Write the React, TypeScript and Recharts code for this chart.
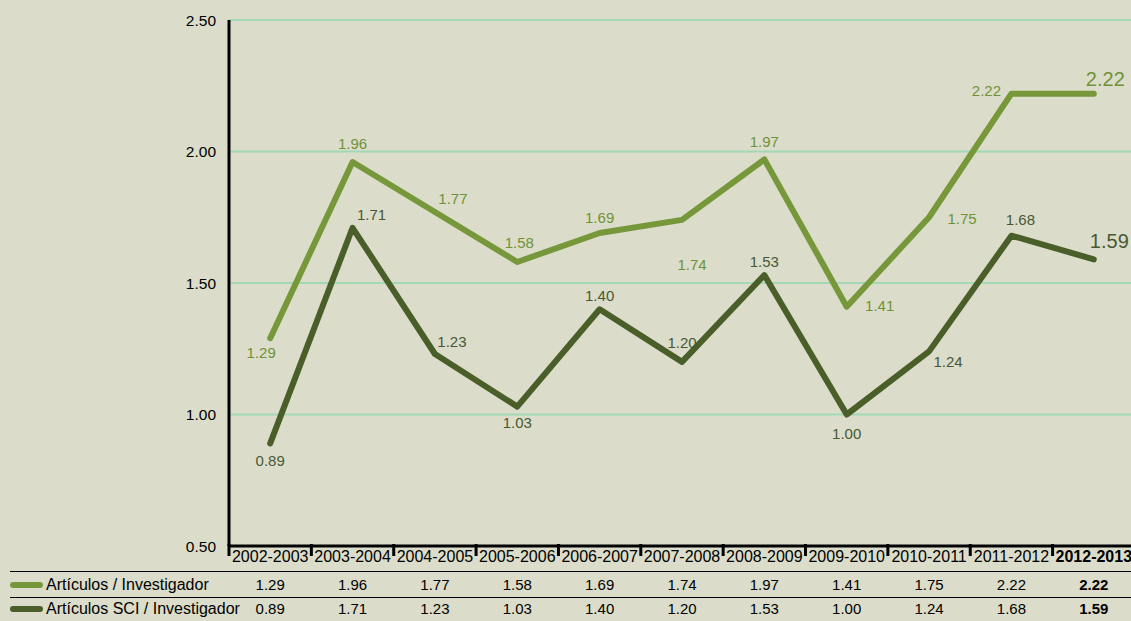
import React from 'react';
import { LineChart, Line, XAxis, YAxis, CartesianGrid, LabelList } from 'recharts';

const categories = ['2002-2003', '2003-2004', '2004-2005', '2005-2006', '2006-2007', '2007-2008', '2008-2009', '2009-2010', '2010-2011', '2011-2012', '2012-2013'];
const articulos = [1.29, 1.96, 1.77, 1.58, 1.69, 1.74, 1.97, 1.41, 1.75, 2.22, 2.22];
const articulosSCI = [0.89, 1.71, 1.23, 1.03, 1.40, 1.20, 1.53, 1.00, 1.24, 1.68, 1.59];
const yTicks = [0.5, 1.0, 1.5, 2.0, 2.5];
const seriesNames = ['Artículos / Investigador', 'Artículos SCI / Investigador'];

const data = categories.map((c, i) => ({ cat: c, a: articulos[i], b: articulosSCI[i] }));

// label nudges (styling) relative to each computed point
const nudgeA: [number, number][] = [[-9, 14], [0, -19], [18, -13], [2, -19], [0, -16], [10, 45], [0, -18], [33, -1], [33, 1], [-25, -3], [31, -15]];
const nudgeB: [number, number][] = [[0, 17], [19, -13], [17, -13], [0, 16], [0, -14], [0, -19], [0, -14], [0, 19], [19, 10], [9, -16], [35, -18]];

const BG = '#dbddca';
const LIGHT = '#76983a';
const DARK = '#4a5e29';
const LIGHT_TXT = '#6f9238';
const DARK_TXT = '#485834';
const GRID = '#a2d8b4';
const FONT = '"Liberation Sans", Arial, sans-serif';
const HALF = 41.2;
const last = categories.length - 1;

const makeLabel = (nudge: [number, number][], color: string) => (props: any) => {
  const { x, y, value, index } = props;
  const [dx, dy] = nudge[index];
  const big = index === last;
  return (
    <text x={x + dx} y={y + dy} textAnchor={big ? 'end' : 'middle'} dominantBaseline="central" fill={color}
      fontSize={big ? 20 : 15} fontFamily={FONT}>
      {Number(value).toFixed(2)}
    </text>
  );
};

const CatTick = (props: any) => {
  const { x, y, payload, index } = props;
  const bold = index === last;
  const common = { textAnchor: 'middle' as const, dominantBaseline: 'central' as const, fill: '#000', fontFamily: FONT, fontWeight: bold ? 700 : 400 };
  return (
    <g>
      <line x1={x - HALF} x2={x - HALF} y1={y - 2} y2={y + 10} stroke="#000" strokeWidth={3} />
      <text x={x} y={y + 10} fontSize={16} {...common}>{payload.value}</text>
      <text x={x} y={y + 38} fontSize={15} {...common}>{articulos[index].toFixed(2)}</text>
      <text x={x} y={y + 62} fontSize={15} {...common}>{articulosSCI[index].toFixed(2)}</text>
    </g>
  );
};

export default function App() {
  return (
    <div style={{ position: 'absolute', left: 0, top: 0, width: 1131, height: 621, background: BG, overflow: 'hidden', fontFamily: FONT }}>
      <LineChart width={1131} height={621} data={data} margin={{ top: 20, right: -4, left: 0, bottom: 0 }}>
        <CartesianGrid horizontal vertical={false} stroke={GRID} strokeWidth={2} />
        <XAxis dataKey="cat" height={75} padding={{ left: HALF, right: HALF }} interval={0}
          axisLine={{ stroke: '#000', strokeWidth: 3 }} tickLine={false} tickSize={0} tickMargin={0} tick={<CatTick />} />
        <YAxis domain={[0.5, 2.5]} ticks={yTicks} width={229} axisLine={{ stroke: '#000', strokeWidth: 3 }}
          tickLine={false} tickMargin={7}
          tick={{ fill: '#000', fontSize: 15.5, fontFamily: FONT }} tickFormatter={(v: number) => v.toFixed(2)} />
        <Line dataKey="a" stroke={LIGHT} strokeWidth={6} dot={false} strokeLinecap="round" strokeLinejoin="round" isAnimationActive={false}>
          <LabelList dataKey="a" content={makeLabel(nudgeA, LIGHT_TXT)} />
        </Line>
        <Line dataKey="b" stroke={DARK} strokeWidth={6} dot={false} strokeLinecap="round" strokeLinejoin="round" isAnimationActive={false}>
          <LabelList dataKey="b" content={makeLabel(nudgeB, DARK_TXT)} />
        </Line>
      </LineChart>
      <div style={{ position: 'absolute', left: 10, top: 571, width: 1121, height: 0, borderTop: '1.5px solid #000' }} />
      <div style={{ position: 'absolute', left: 10, top: 597, width: 1121, height: 0, borderTop: '1.5px solid #000' }} />
      {seriesNames.map((n, i) => (
        <div key={n} style={{ position: 'absolute', left: 10, top: i === 0 ? 576 : 600, height: 18, display: 'flex', alignItems: 'center', fontSize: 16, color: '#000', whiteSpace: 'nowrap' }}>
          <span style={{ display: 'inline-block', width: 33, height: 6, borderRadius: 3, background: i === 0 ? LIGHT : DARK, marginRight: 3 }} />
          <span>{n}</span>
        </div>
      ))}
    </div>
  );
}
